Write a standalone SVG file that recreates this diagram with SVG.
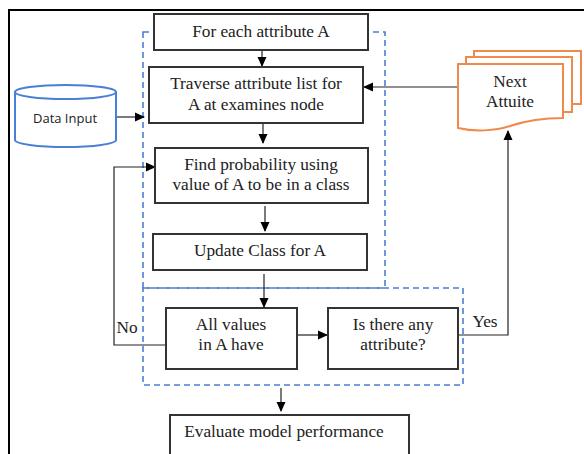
<svg xmlns="http://www.w3.org/2000/svg" width="584" height="454" viewBox="0 0 584 454">
<defs>
<style>
.box{fill:#fff;stroke:#333;stroke-width:2}
.t{font-family:"Liberation Serif","Times New Roman",serif;font-size:17.3px;fill:#222;text-anchor:middle}
.dash{fill:none;stroke:#4a7fd6;stroke-width:1.6;stroke-dasharray:6,4}
.c{fill:none;stroke:#222;stroke-width:1.2}
.doc{fill:#fff;stroke:#f08a4b;stroke-width:2}
</style>
<marker id="ah" markerWidth="10" markerHeight="10" refX="9" refY="5" orient="auto" markerUnits="userSpaceOnUse">
<path d="M0,0.5 L10,5 L0,9.5 Z" fill="#000"/>
</marker>
</defs>
<rect width="584" height="454" fill="#fff"/>
<path d="M9,454 V10 H584" fill="none" stroke="#000" stroke-width="2"/>
<g id="regions">
<rect class="dash" x="143" y="32" width="242" height="256"/>
<rect class="dash" x="143" y="288" width="320" height="97"/>
</g>
<g id="connectors">
<path class="c" d="M262,50 V66" marker-end="url(#ah)"/>
<path class="c" d="M263,120 V143" marker-end="url(#ah)"/>
<path class="c" d="M265,206 V231" marker-end="url(#ah)"/>
<path class="c" d="M264,274 V307" marker-end="url(#ah)"/>
<path class="c" d="M297,335 H327" marker-end="url(#ah)"/>
<path class="c" d="M281,388 V411" marker-end="url(#ah)"/>
<path class="c" d="M116,117 H144" marker-end="url(#ah)"/>
<path class="c" d="M458,87 H364" marker-end="url(#ah)"/>
<path class="c" d="M166,345 H114 V167 H155" marker-end="url(#ah)"/>
<path class="c" d="M458,335 H508 V131" marker-end="url(#ah)"/>
<text class="t" x="127" y="333">No</text>
<text class="t" x="485" y="327">Yes</text>
</g>
<g id="data-input">
<path d="M15,92 V140 A50.5,7 0 0 0 116,140 V92" fill="#fff" stroke="#4a7fd6" stroke-width="2"/>
<ellipse cx="65.5" cy="92" rx="50.5" ry="7" fill="#fff" stroke="#4a7fd6" stroke-width="2"/>
<text x="65" y="123" font-family="'Open Sans','Noto Sans',sans-serif" font-size="13" fill="#222" text-anchor="middle">Data Input</text>
</g>
<g id="next-attribute">
<rect class="doc" x="474" y="51" width="107" height="53"/>
<rect class="doc" x="466" y="57" width="106" height="55"/>
<path class="doc" d="M458,64 H563 V118 C540,118 525,121 510,126 C495,131 475,132 458,128 Z"/>
<text class="t" x="510" y="87">Next</text>
<text class="t" x="510" y="107">Attuite</text>
</g>
<g id="for-each">
<rect class="box" x="154" y="14" width="214" height="36"/>
<text class="t" x="261" y="37">For each attribute A</text>
</g>
<g id="traverse">
<rect class="box" x="149" y="67" width="214" height="56"/>
<text class="t" x="256" y="89">Traverse attribute list for</text>
<text class="t" x="256" y="110">A at examines node</text>
</g>
<g id="find-probability">
<rect class="box" x="155" y="148" width="213" height="55"/>
<text class="t" x="261" y="170">Find probability using</text>
<text class="t" x="261" y="190">value of A to be in a class</text>
</g>
<g id="update-class">
<rect class="box" x="153" y="234" width="214" height="36"/>
<text class="t" x="260" y="256">Update Class for A</text>
</g>
<g id="all-values">
<rect class="box" x="166" y="308" width="131" height="61"/>
<text class="t" x="231" y="330">All values</text>
<text class="t" x="231" y="350">in A have</text>
</g>
<g id="any-attribute">
<rect class="box" x="328" y="308" width="130" height="61"/>
<text class="t" x="393" y="330">Is there any</text>
<text class="t" x="393" y="350">attribute?</text>
</g>
<g id="evaluate">
<rect class="box" x="170" y="415" width="239" height="50"/>
<text class="t" x="284" y="437">Evaluate model performance</text>
</g>
</svg>
